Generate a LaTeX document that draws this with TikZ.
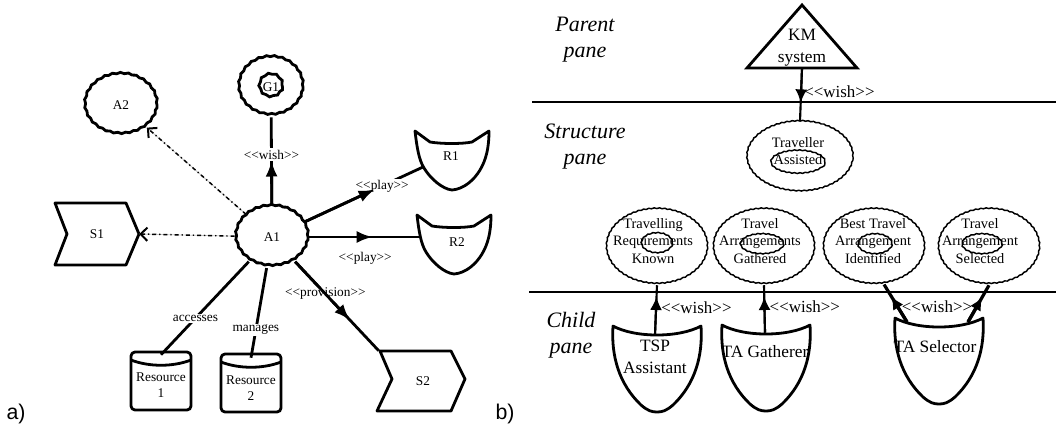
\documentclass[tikz,border=0pt]{standalone}
\usepackage{fontspec}
\setmainfont{Liberation Serif}
\newfontfamily\labsans{Liberation Sans}
\usetikzlibrary{shapes.geometric,arrows.meta,calc,decorations.pathmorphing}
\newcommand{\stlt}{<\kern0pt<}
\newcommand{\stgt}{>\kern0pt>}
\tikzset{
  wobA/.style={decorate, decoration={snake, amplitude=0.45pt, segment length=6pt}},
  wobB/.style={decorate, decoration={snake, amplitude=0.3pt, segment length=4pt}},
  fa/.style={font=\fontsize{10}{12}\selectfont},
  agoal/.style={ellipse, draw, line width=2.1pt, wobA, inner sep=0pt, fa},
  plain/.style={inner sep=0pt, fa, align=center},
  shp/.style={draw, line width=2.1pt, line join=round},
  conA/.style={line width=2.1pt},
  tipA/.style={-{Latex[length=12pt,width=9pt]}},
  lab/.style={fill=white, inner sep=1pt, fa},
  dashA/.style={line width=1.1pt, dash pattern=on 3pt off 2.2pt on 1pt off 2.2pt, -{Straight Barb[length=5pt,width=10pt,line width=1.5pt]}},
  goalB/.style={ellipse, draw, line width=1.1pt, wobB, inner sep=0pt},
  txtB/.style={font=\fontsize{10.8}{13}\selectfont, align=center, inner sep=0pt},
  agB/.style={font=\fontsize{13}{16.5}\selectfont, align=center, inner sep=0pt},
  labB/.style={font=\fontsize{12.7}{15}\selectfont, inner sep=0pt},
  shpB/.style={draw, line width=2.1pt, line join=round},
  conB/.style={line width=1.6pt},
  conB2/.style={line width=2.4pt},
  tipB/.style={-{Latex[length=10pt,width=9pt]}},
  pane/.style={font=\fontsize{16.5}{19.5}\selectfont\itshape, align=center, inner sep=0pt},
  cathead/.pic={\draw[shp] (-37,-29) -- (-22,-18) .. controls (-10,-16) and (10,-16) .. (20,-18) -- (37,-29) .. controls (37,-12) and (34,0) .. (28,10) .. controls (22,20) and (12,29) .. (0,30) .. controls (-10,29) and (-22,18) .. (-28,8) .. controls (-33,0) and (-35,-12) .. cycle;},
  resource/.pic={\draw[shp, rounded corners=3pt] (-30,-29) rectangle (30,29); \draw[shp] (-30,-21) .. controls (-12,-14) and (12,-14) .. (30,-21);},
  shield/.pic={\draw[shpB] (-44,0) .. controls (-22,12) and (22,12) .. (44,0) .. controls (46,30) and (38,58) .. (16,79) .. controls (9,85) and (5,86) .. (0,86) .. controls (-5,86) and (-9,85) .. (-16,79) .. controls (-38,58) and (-46,30) .. cycle;}
}
\begin{document}
\begin{tikzpicture}[x=0.75pt,y=-0.75pt]
\useasboundingbox (0,0) rectangle (1056,430);

% ---------------- part a ----------------
\node[agoal, minimum width=54pt, minimum height=45pt] (A1) at (272,237) {A1};
\node[agoal, minimum width=54pt, minimum height=45pt] (A2) at (121,105) {A2};
\node[agoal, minimum width=48pt, minimum height=43.5pt] (G1) at (271,87) {};
\node[agoal, minimum width=17pt, minimum height=17pt] (G1i) at (271,87) {G1};

\node[plain, minimum width=63pt, minimum height=46pt] (S1) at (97,234) {S1};
\draw[shp, shift={(S1.center)}] (-42,-31) -- (29,-31) -- (42,0) -- (29,31) -- (-42,31) -- (-30,0) -- cycle;

\node[plain, minimum width=66pt, minimum height=45pt] (S2) at (423,381) {S2};
\draw[shp, shift={(S2.center)}] (-43,-30) -- (28,-30) -- (42,-2) -- (28,30) -- (-46,30) -- (-31,-2) -- cycle;

\node[plain] (R1) at (451,156) {R1};
\pic at ($(R1.center)+(1,4)$) {cathead};
\node[plain] (R2) at (457,242) {R2};
\pic at ($(R2.center)+(-3,2)$) {cathead};
\coordinate (R1p) at ($(R1.center)+(-28,11)$);
\coordinate (R2p) at ($(R2.center)+(-37,-5)$);

\node[plain, minimum width=45pt, minimum height=45pt] (Res1) at (161,385) {Resource\\1};
\pic at (161,381) {resource};
\node[plain, minimum width=45pt, minimum height=45pt] (Res2) at (251,388) {Resource\\2};
\pic at (251,383) {resource};

% wish
\draw[conA] (A1) -- (G1);
\node[lab] (lw) at ($(A1)!0.55!(G1)$) {\stlt wish\stgt};
\draw[conA, tipA] (A1) -- ($(A1)!0.51!(G1)$);
% play R1
\draw[conA] (A1) -- (R1p);
\node[lab] (lp1) at ($(A1)!0.73!(R1p)$) {\stlt play\stgt};
\draw[conA, tipA] (A1) -- ($(A1)!0.68!(R1p)$);
% play R2
\draw[conA] (A1) -- (R2p);
\draw[conA, tipA] (A1) -- ($(A1)!0.68!(R2p)$);
\node[fa, inner sep=0pt] (lp2) at ($(A1)!0.63!(R2p)+(0,21)$) {\stlt play\stgt};
% provision
\draw[conA] (A1) -- (S2.north west);
\node[lab] (lpr) at ($(A1)!0.5!(S2.north west)$) {\stlt provision\stgt};
\draw[conA, tipA] (A1) -- ($(A1)!0.73!(S2.north west)$);
% accesses / manages
\draw[conA] (A1) -- (Res1.north);
\node[lab] (lac) at ($(A1)!0.69!(Res1.north)$) {accesses};
\draw[conA] (A1) -- (Res2.north);
\node[lab] (lma) at ($(A1)!0.77!(Res2.north)$) {manages};
% dashed
\draw[gray!45, line width=0.6pt] (A1) -- (A2);
\draw[dashA] (A1) -- (A2);
\draw[gray!45, line width=0.6pt] (A1) -- (S1.east);
\draw[dashA] (A1) -- (S1.east);

\node[font=\labsans\fontsize{16}{18}\selectfont, inner sep=0pt] (la) at (16,414) {a)};

% ---------------- part b ----------------
\draw[line width=2pt] (532,102) -- (1056,102);
\draw[line width=2pt] (529,292) -- (1056,292);

\node[pane] (pp) at (585,40) {Parent\\pane};
\node[pane] (sp) at (585,147) {Structure\\pane};
\node[pane] (cp) at (571,335) {Child\\pane};

\node[agB, minimum height=30pt] (KM) at (802,48) {KM\\system};
\draw[shpB, line join=miter, shift={(KM.center)}] (0,-43) -- (-55,20) -- (55,20) -- cycle;

\node[goalB, minimum width=79.5pt, minimum height=52.5pt] (TA) at (800,157) {};
\node[goalB, minimum width=40.5pt, minimum height=17.25pt] (TAi) at (798,163) {};
\node[txtB] (TAt) at (798,151) {Traveller\\Assisted};

\node[goalB, minimum width=75.75pt, minimum height=56.25pt] (gA) at (657,247) {};
\node[goalB, minimum width=23.25pt, minimum height=15pt] (gAi) at (657,244) {};
\node[txtB] (gAt) at (653,241) {Travelling\\Requirements\\Known};

\node[goalB, minimum width=75.75pt, minimum height=56.25pt] (gB) at (764,247) {};
\node[goalB, minimum width=32.25pt, minimum height=15pt] (gBi) at (762,245) {};
\node[txtB] (gBt) at (760,241) {Travel\\Arrangements\\Gathered};

\node[goalB, minimum width=75.75pt, minimum height=56.25pt] (gC) at (874,247) {};
\node[goalB, minimum width=25.5pt, minimum height=15pt] (gCi) at (875,245) {};
\node[txtB] (gCt) at (873,241) {Best Travel\\Arrangement\\Identified};

\node[goalB, minimum width=75.75pt, minimum height=56.25pt] (gD) at (989,247) {};
\node[goalB, minimum width=30pt, minimum height=15pt] (gDi) at (982,245) {};
\node[txtB] (gDt) at (980,241) {Travel\\Arrangement\\Selected};

\pic at (657,326) {shield};
\pic at (766,325) {shield};
\pic at (939,318) {shield};
\node[agB, minimum height=33pt] (TSP) at (655,357) {TSP\\Assistant};
\node[agB, minimum height=28.5pt] (TAG) at (765,352) {TA Gatherer};
\node[agB] (TAS) at (935,347) {TA Selector};
\coordinate (TSl) at ($(TAS.center)+(-28,-25)$);
\coordinate (TSr) at ($(TAS.center)+(33,-25)$);

% KM wish
\draw[conB] (KM.south) -- (TA.north);
\draw[conB, tipB] (KM.south) -- ($(KM.south)!0.65!(TA.north)$);
\node[labB, anchor=west] (lw0) at ($(KM.south)!0.45!(TA.north)+(3,0)$) {\stlt wish\stgt};

% child wishes
\draw[conB] (TSP.north) -- (gA.south);
\draw[conB, tipB] (TSP.north) -- ($(TSP.north)!0.77!(gA.south)$);
\node[labB, anchor=west] (lw1) at ($(TSP.north)!0.55!(gA.south)+(5,0)$) {\stlt wish\stgt};

\draw[conB] (TAG.north) -- (gB.south);
\draw[conB, tipB] (TAG.north) -- ($(TAG.north)!0.76!(gB.south)$);
\node[labB, anchor=west] (lw2) at ($(TAG.north)!0.54!(gB.south)+(5,0)$) {\stlt wish\stgt};

\draw[conB2] (TSl) -- (gC.-75);
\draw[conB2, tipB] (TSl) -- ($(TSl)!0.69!(gC.-75)$);
\draw[conB2] (TSr) -- (gD.south);
\draw[conB2, tipB] (TSr) -- ($(TSr)!0.68!(gD.south)$);
\node[labB] (lw3) at (937,307) {\stlt wish\stgt};

\node[font=\labsans\fontsize{16}{18}\selectfont, inner sep=0pt] (lb) at (505,414) {b)};
\end{tikzpicture}
\end{document}
